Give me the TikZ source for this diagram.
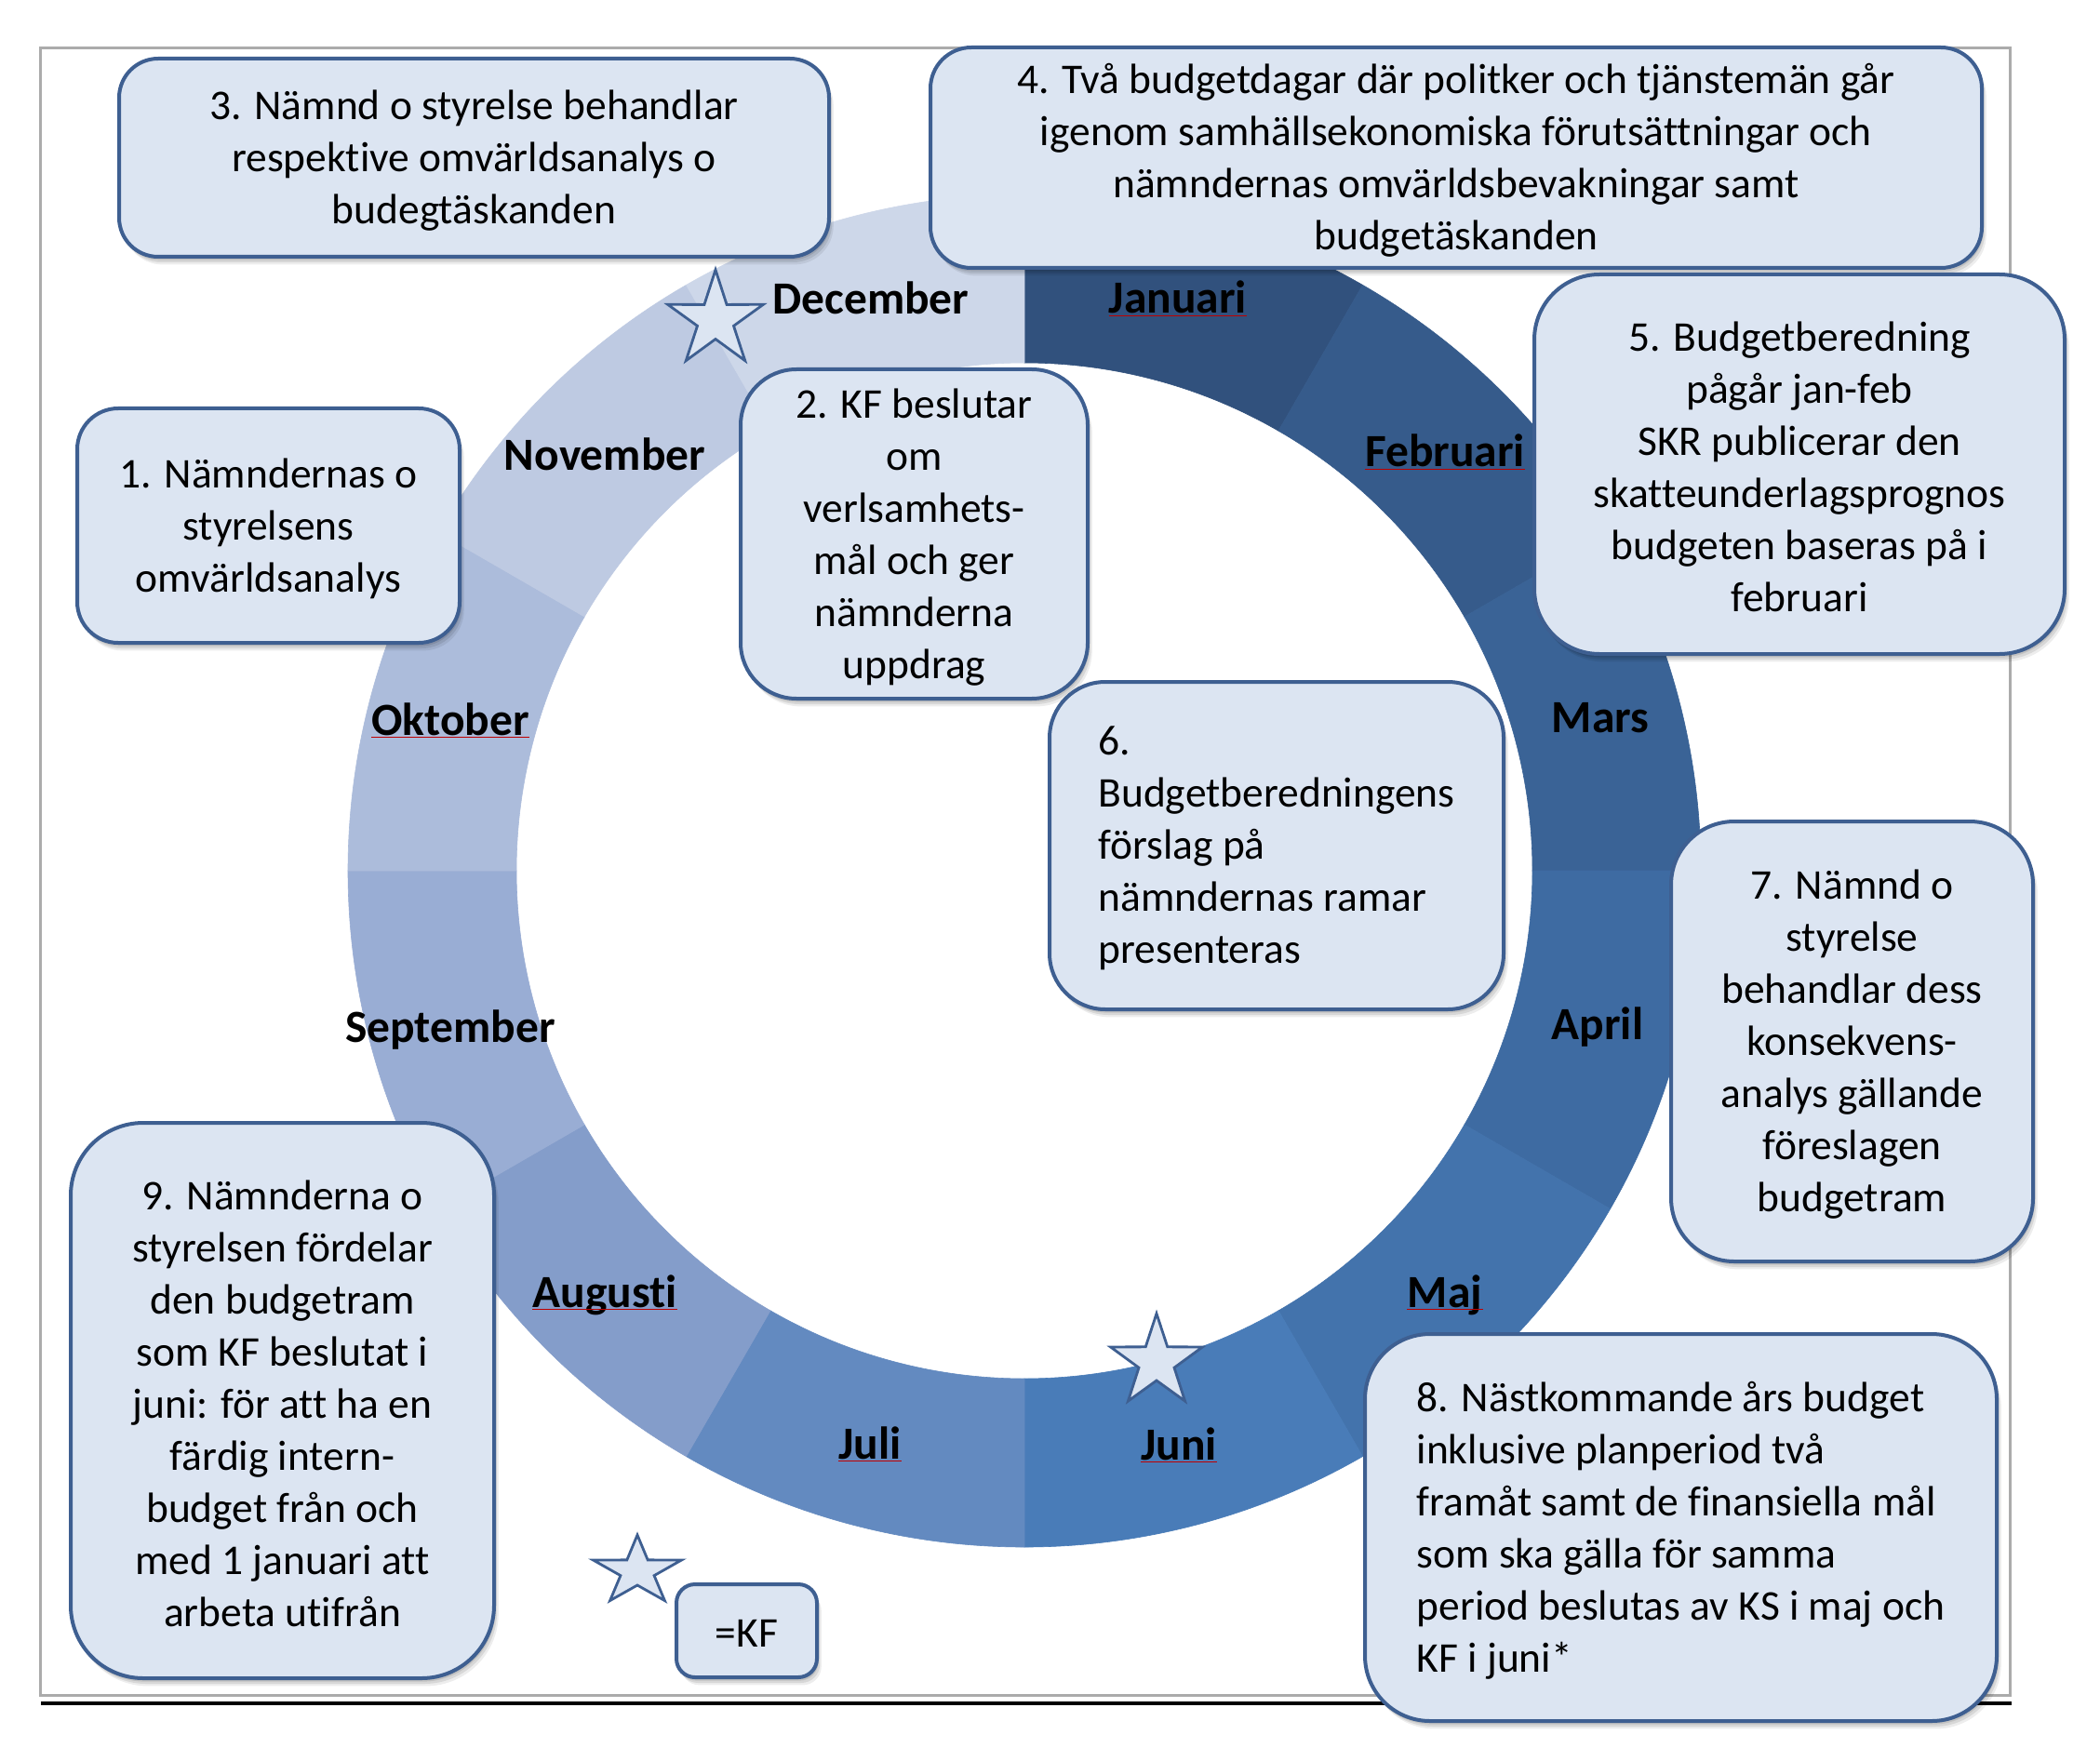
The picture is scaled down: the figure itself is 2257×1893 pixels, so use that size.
\documentclass[tikz,border=0pt]{standalone}
\usepackage{fontspec}
\setmainfont{Carlito}[Ligatures=NoCommon]
\usetikzlibrary{shadows}
\definecolor{mJan}{HTML}{31517D}
\definecolor{mFeb}{HTML}{365B8B}
\definecolor{mMar}{HTML}{3A6396}
\definecolor{mApr}{HTML}{3E6BA2}
\definecolor{mMaj}{HTML}{4373AC}
\definecolor{mJun}{HTML}{497CB8}
\definecolor{mJul}{HTML}{638AC0}
\definecolor{mAug}{HTML}{849DCA}
\definecolor{mSep}{HTML}{99ADD4}
\definecolor{mOkt}{HTML}{ACBCDB}
\definecolor{mNov}{HTML}{BECAE2}
\definecolor{mDec}{HTML}{CDD7E9}
\definecolor{boxfill}{HTML}{DCE5F2}
\definecolor{boxline}{HTML}{3E5F91}
\definecolor{framegray}{HTML}{ABABAB}
\tikzset{
  softshadow/.style={
    general shadow={shadow xshift=0.8pt, shadow yshift=-1.8pt, fill=black, opacity=0.10},
    general shadow={shadow xshift=1.6pt, shadow yshift=-3.0pt, fill=black, opacity=0.09},
    general shadow={shadow xshift=2.4pt, shadow yshift=-4.2pt, fill=black, opacity=0.07}},
  infobox/.style={draw=boxline, line width=2pt, fill=boxfill, softshadow, inner sep=0pt},
  boxtext/.style={inner sep=0pt, font=\fontsize{22.75}{28}\selectfont, text=black},
  month/.style={font=\bfseries\fontsize{24.75}{30}\selectfont, anchor=base, inner sep=0pt},
  spell/.style={red!75!black, line width=0.5pt},
  kfstar/.style={draw=boxline, line width=1.4pt, fill=boxfill, line join=miter},
}
\begin{document}
\begin{tikzpicture}[x=0.5pt, y=-0.5pt]
\useasboundingbox (0,0) rectangle (2257,1893);
\fill[white] (0,0) rectangle (2257,1893);
% frame and rule
\draw[framegray, line width=1.5pt] (43.5,51.5) rectangle (2160,1822);
\draw[black, line width=2pt] (44,1831) -- (2162,1831);
% ring
\begin{scope}[shift={(1101,936)}, yscale=-1]
\foreach \c [count=\i from 0] in {mJan,mFeb,mMar,mApr,mMaj,mJun,mJul,mAug,mSep,mOkt,mNov,mDec}{
  \pgfmathsetmacro\a{90-30*\i}
  \pgfmathsetmacro\b{60-30*\i}
  \filldraw[fill=\c, draw=\c, line width=0.3pt] (\a:727) arc[start angle=\a, end angle=\b, radius=727]
    -- (\b:546) arc[start angle=\b, end angle=\a, radius=546] -- cycle;
}
\end{scope}
% month labels
\node[month] (dec) at (936,338) {December};
\node[month] (jan) at (1266,337) {Januari};
\node[month] (feb) at (1553,502) {Februari};
\node[month] (mar) at (1720,787) {Mars};
\node[month] (apr) at (1717,1117) {April};
\node[month] (maj) at (1553,1405) {Maj};
\node[month] (jun) at (1267,1569) {Juni};
\node[month] (jul) at (935,1568) {Juli};
\node[month] (aug) at (650,1405) {Augusti};
\node[month] (sep) at (484,1120) {September};
\node[month] (okt) at (484,790) {Oktober};
\node[month] (nov) at (650,505) {November};
\foreach \m in {jan,feb,maj,jun,jul,aug,okt}{
  \draw[spell] ([yshift=-1.2pt]\m.base west) -- ([yshift=-1.2pt]\m.base east);
}
% stars
\begin{scope}[shift={(769,344)}]
\draw[kfstar] (270:54) -- (306:20.5) -- (342:54) -- (18:20.5) -- (54:54) -- (90:20.5)
  -- (126:54) -- (162:20.5) -- (198:54) -- (234:20.5) -- cycle;
\end{scope}
\begin{scope}[shift={(1243,1464)}]
\draw[kfstar] (270:52) -- (306:20) -- (342:52) -- (18:20) -- (54:52) -- (90:20)
  -- (126:52) -- (162:20) -- (198:52) -- (234:20) -- cycle;
\end{scope}
\begin{scope}[shift={(685,1689)}]
\draw[kfstar] (270:50 and 39) -- (306:19 and 15) -- (342:50 and 39) -- (18:19 and 15)
  -- (54:50 and 39) -- (90:19 and 15) -- (126:50 and 39) -- (162:19 and 15)
  -- (198:50 and 39) -- (234:19 and 15) -- cycle;
\end{scope}
% boxes
\node[infobox, minimum width=381.5pt, minimum height=106.5pt, rounded corners=21pt] (b3) at (509.5,169.5) {};
\node[boxtext, align=center] (t3) at ([yshift=-1.6pt]b3.center)
  {3. Nämnd o styrelse behandlar\\respektive omvärldsanalys o\\budegtäskanden};
\node[infobox, minimum width=565pt, minimum height=118.5pt, rounded corners=22pt] (b4) at (1565,169.5) {};
\node[boxtext, align=center] (t4) at ([yshift=-1.6pt]b4.center)
  {4. Två budgetdagar där politker och tjänstemän går\\igenom samhällsekonomiska förutsättningar och\\nämndernas omvärldsbevakningar samt\\budgetäskanden};
\node[infobox, minimum width=205.5pt, minimum height=126pt, rounded corners=22pt] (b1) at (288.5,565) {};
\node[boxtext, align=center] (t1) at ([yshift=-1.6pt]b1.center)
  {1. Nämndernas o\\styrelsens\\omvärldsanalys};
\node[infobox, minimum width=186.5pt, minimum height=177pt, rounded corners=30pt] (b2) at (982.5,574) {};
\node[boxtext, align=center] (t2) at ([yshift=-1.6pt]b2.center)
  {2. KF beslutar\\om\\verlsamhets-\\mål och ger\\nämnderna\\uppdrag};
\node[infobox, minimum width=285pt, minimum height=204pt, rounded corners=35pt] (b5) at (1934,499) {};
\node[boxtext, align=center] (t5) at ([yshift=-1.6pt]b5.center)
  {5. Budgetberedning\\pågår jan-feb\\SKR publicerar den\\skatteunderlagsprognos\\budgeten baseras på i\\februari};
\node[infobox, minimum width=244pt, minimum height=176pt, rounded corners=30pt] (b6) at (1372,909) {};
\node[boxtext, align=left] (t6) at ([yshift=-1.6pt]b6.center)
  {6.\\Budgetberedningens\\förslag på\\nämndernas ramar\\presenteras};
\node[infobox, minimum width=194.5pt, minimum height=236.5pt, rounded corners=34pt] (b7) at (1990.5,1119.5) {};
\node[boxtext, align=center] (t7) at ([yshift=-1.6pt]b7.center)
  {7. Nämnd o\\styrelse\\behandlar dess\\konsekvens-\\analys gällande\\föreslagen\\budgetram};
\node[infobox, minimum width=339.5pt, minimum height=208pt, rounded corners=35pt] (b8) at (1806.5,1642) {};
\node[boxtext, align=left] (t8) at ([yshift=-1.6pt]b8.center)
  {8. Nästkommande års budget\\inklusive planperiod två\\framåt samt de finansiella mål\\som ska gälla för samma\\period beslutas av KS i maj och\\KF i juni*};
\node[infobox, minimum width=227.5pt, minimum height=298.5pt, rounded corners=39pt] (b9) at (303.5,1505.5) {};
\node[boxtext, align=center] (t9) at ([yshift=-1.6pt]b9.center)
  {9. Nämnderna o\\styrelsen fördelar\\den budgetram\\som KF beslutat i\\juni: för att ha en\\färdig intern-\\budget från och\\med 1 januari att\\arbeta utifrån};
\node[infobox, minimum width=75.5pt, minimum height=50pt, rounded corners=10pt] (kf) at (802.5,1753) {};
\node[boxtext] (tkf) at ([yshift=-1.2pt]kf.center) {=KF};
\end{tikzpicture}
\end{document}
